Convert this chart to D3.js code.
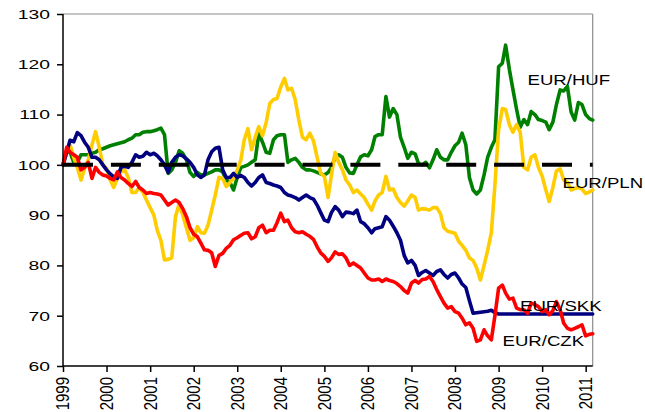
<!DOCTYPE html>
<html><head><meta charset="utf-8">
<script src="https://cdn.jsdelivr.net/npm/d3@7"></script>
<style>
body{margin:0;background:#fff}
svg{display:block}
text{font-family:"Liberation Sans",Arial,sans-serif;fill:#000}
</style>
</head><body>
<svg id="chart" width="645" height="412"></svg>
<script>
// ---- data ----
const firstMonth = [1999, 0];          // Jan 1999
const monthCount = 147;                // Jan 1999 .. Mar 2011
const yearLabels = ["1999","2000","2001","2002","2003","2004","2005","2006","2007","2008","2009","2010","2011"];
const yTickValues = [60,70,80,90,100,110,120,130];
const seriesNames = ["EUR/HUF","EUR/PLN","EUR/SKK","EUR/CZK"];
const baseline = 100;

const hufValues = [100,102.5,102.6,100.5,100.5,102,102,102,102.3,102.5,103,103.2,103.5,103.8,104,104.2,104.4,104.6,105,105.3,
106,106,106.5,106.6,106.6,106.8,107,107.3,106,98.3,99,100.5,102.8,102.3,101,98.5,97.7,98.5,98,98,
98.3,98.6,99,99,98.6,97,96.5,95,97.5,99.5,99.7,100,100.5,101,106.3,104.5,102.5,102.3,105,105.8,
106,106,100.5,101,101.3,100.5,99.5,99,99,98.8,98.5,98.2,98,98.5,99.5,101.6,102,101.5,99.5,98.4,
98.3,100,101.6,102,101.8,103,105.6,106,106,113.6,109.5,111.2,110,105.5,103.5,101.3,102.5,102.2,100.3,100,
100.5,99.4,101,103,101.5,101,101,102.5,103.8,104.5,106.3,104,97.5,95,94.2,95,98,101.5,103.5,105,
119.5,120.2,123.8,119,115,111,107.5,109,108,110.6,110,109,108.8,108.5,107,108.5,112,114.9,114.7,115.6,
110.5,108.9,112.4,112,110,109.2,108.9];

const plnValues = [100,103,104,101.5,99.5,97,99.3,101,104,106.6,103.5,100,99.3,97,95.5,97.3,98.6,99,97.5,94.5,
94.5,95.5,94.5,93,91.5,90,87,85,81.1,81.2,81.5,89.7,92.2,90,87.5,85,85.5,87.7,86.5,86.4,
88,91,94,97.5,97.3,95.7,96.5,97.3,99,101,105,107.2,103,105.5,107.6,105.8,108.5,112.2,113,113.2,
115.5,117.2,114.9,115.2,113,108.9,105.5,105,106.3,104.8,101.5,98.3,97.7,93.5,98,102.5,100.5,99,97,96,
94.5,95,94.2,93.5,92.2,91,92.8,94,94.5,97.7,95,95.2,93.5,92.5,91.8,92.8,94,93.5,91,91.3,
91.2,91,91.5,91.5,90.3,87.5,86.8,86.6,86.4,84.8,84,83,81.5,81,79.5,77.1,80,83,86.5,96,
107,111.2,111,108,106.5,108,106.5,99.5,99,101.5,102,99.5,97.8,95,92.7,95.5,98.8,99.2,97,96.5,
95,95.3,95.5,95.2,94.3,94.6,95];

const skkValues = [100,102.5,104.9,104.6,106.4,105.8,104.5,103.5,101.5,101.5,101,100,99,98.2,97.6,97.3,99.5,99.7,99.5,100.5,
102,101.5,101.7,102.5,102,102.3,101.8,101,100,98.5,100.5,101.5,102,101.8,101.2,100.5,99.5,98,97.5,98,
101,102.6,103.3,103.5,99,97.5,97.5,98.3,97.5,97.9,97.5,96.5,95.8,96.5,97.5,98,96.5,96.3,96,95.8,
95.5,94.5,94,93.8,93.5,93,93.5,94,93.5,93.2,92,90.5,89,88.7,90.5,91.7,91,89.7,90.6,90.5,
90.3,91,88.7,88.3,87.5,86.5,87.3,87.5,87.7,89.7,89,87.8,86.5,85,82,80.5,81,80,78,78.6,
79,78.5,78,78.8,79.1,78.2,77.5,78.2,78.5,77.5,76.3,75.6,73,70.5,70.6,70.7,70.8,70.9,71.1,70.6,
70.35,70.35,70.35,70.35,70.35,70.35,70.35,70.35,70.35,70.35,70.35,70.35,70.35,70.35,70.35,70.35,70.35,70.35,70.35,70.35,
70.35,70.35,70.35,70.35,70.35,70.35,70.35];

const czkValues = [100,103.5,102.5,102,101.5,99,99.5,100.5,97.3,99.5,98.5,98,97.8,97.3,97,98.6,97.5,97,96.3,95.7,
96.7,95.5,95,94.3,94.5,94.3,94.2,94,93,92,92.5,93,92.5,91.3,89.7,87.5,86.2,85.7,84.5,83.1,
83,82.5,79.8,82,82.4,83.4,84,85.1,85.5,86,86.4,86.5,85.3,85.7,87.5,88,86.5,87,87,88.5,
90.4,88.7,89,87.5,86.7,86.5,86.7,86.2,85.8,85.2,83.7,82.5,81.8,80.8,81.5,82.7,82.2,82.3,81.5,80,
80.5,80,79.5,78.5,77.5,77.1,77.1,77.3,76.8,77.3,77,76.8,76.4,75.8,75,74.5,76.5,77,76.5,77.2,
77.3,77.8,76.8,75.2,73.8,72.5,71.5,71.8,70.8,70.5,69.5,68.2,68.6,67.5,64.9,65.2,67.2,66,65.2,70,
75.5,76.1,74.5,73.3,73.5,71.5,71.2,71.2,70.5,72.5,72.2,71.8,70.8,71.2,70.2,71,72.8,71.2,68.5,67.5,
67.2,67.5,67.8,68.2,66,66.3,66.4];

// ---- layout ----
const svg = d3.select("#chart");
const plot = {left:63, right:592.7, top:14, bottom:366};
const months = d3.range(monthCount).map(i => new Date(firstMonth[0], firstMonth[1] + i, 1));

const x = d3.scaleTime().domain([months[0], months[months.length-1]]).range([plot.left, plot.right]);
const y = d3.scaleLinear().domain([60,130]).range([plot.bottom, plot.top]);

// plot frame (top & right grey)
svg.append("line").attr("x1",plot.left).attr("x2",plot.right).attr("y1",plot.top).attr("y2",plot.top)
  .attr("stroke","#8c8c8c").attr("stroke-width",1.2);
svg.append("line").attr("x1",plot.right).attr("x2",plot.right).attr("y1",plot.top).attr("y2",plot.bottom)
  .attr("stroke","#8c8c8c").attr("stroke-width",1.2);

// series
const colors = {"EUR/HUF":"#008000","EUR/PLN":"#FFCC00","EUR/SKK":"#000080","EUR/CZK":"#FF0000"};
const valuesByName = {"EUR/HUF":hufValues,"EUR/PLN":plnValues,"EUR/SKK":skkValues,"EUR/CZK":czkValues};
const drawOrder = ["EUR/HUF","EUR/PLN","EUR/SKK","EUR/CZK"];
const line = d3.line().x((d,i)=>x(months[i])).y(d=>y(d)).curve(d3.curveLinear);
drawOrder.forEach(name=>{
  svg.append("path").datum(valuesByName[name])
    .attr("d", line)
    .attr("fill","none")
    .attr("stroke", colors[name])
    .attr("stroke-width", 3.6)
    .attr("stroke-linejoin","round")
    .attr("stroke-linecap","round");
});

// baseline 100 dashed
svg.append("line")
  .attr("x1", plot.left).attr("x2", plot.right)
  .attr("y1", y(baseline)).attr("y2", y(baseline))
  .attr("stroke","#000").attr("stroke-width",4)
  .attr("stroke-dasharray","30,17.9");

// axes
const yAxis = svg.append("g").attr("transform",`translate(${plot.left},0)`)
  .call(d3.axisLeft(y).tickValues(yTickValues).tickSize(6).tickFormat(""));
const xTickDates = yearLabels.map(l => new Date(+l, 0, 1));
const xAxis = svg.append("g").attr("transform",`translate(0,${plot.bottom})`)
  .call(d3.axisBottom(x).tickValues(xTickDates).tickSize(6).tickFormat(""));
[yAxis,xAxis].forEach(g=>{
  g.select(".domain").attr("stroke","#000").attr("stroke-width",1.5);
  g.selectAll(".tick line").attr("stroke","#000").attr("stroke-width",1.5);
});
yAxis.select(".domain").attr("d",`M0,${plot.bottom}V${plot.top}`);
xAxis.select(".domain").attr("d",`M${plot.left},0H${plot.right}`);

// y tick labels (stretched horizontally as in the source image)
svg.append("g").selectAll("text").data(yTickValues).join("text")
  .attr("transform", d=>`translate(50,${y(d)}) scale(1.42,1)`)
  .attr("text-anchor","end").attr("dy","0.36em")
  .style("font-size","13.6px")
  .text(d=>d);

// x tick labels rotated
svg.append("g").selectAll("text").data(yearLabels).join("text")
  .attr("transform", d=>`translate(${x(new Date(+d,0,1))},377) scale(1.2,1) rotate(-90)`)
  .attr("text-anchor","end").attr("dy","0.36em")
  .style("font-size","15px")
  .text(d=>d);

// series labels
const labelPos = {"EUR/HUF":[527.5,85],"EUR/PLN":[562.5,187.7],"EUR/SKK":[520,310.7],"EUR/CZK":[502.5,345.7]};
seriesNames.forEach(name=>{
  svg.append("text")
    .attr("transform",`translate(${labelPos[name][0]},${labelPos[name][1]}) scale(1.2,1)`)
    .style("font-size","15.5px")
    .text(name);
});
</script>
</body></html>
